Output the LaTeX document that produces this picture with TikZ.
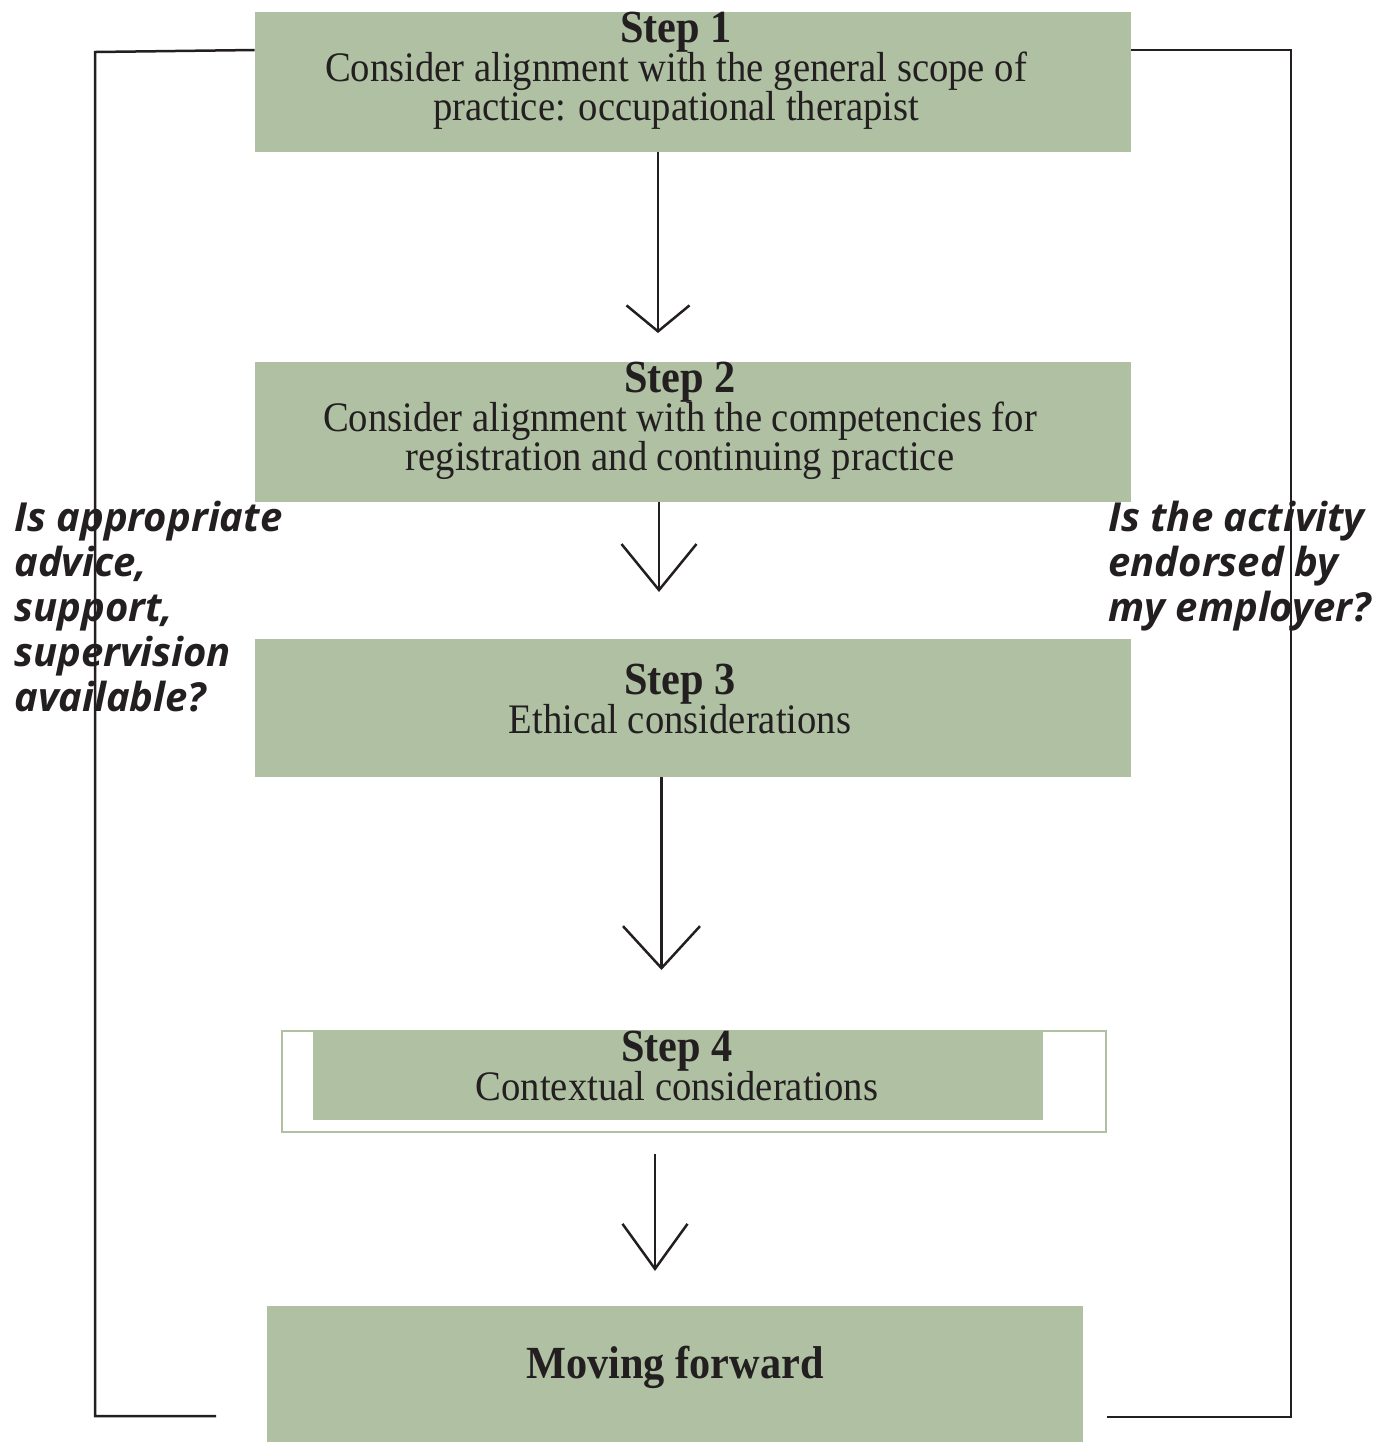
\documentclass[tikz,border=0pt]{standalone}
\usepackage{fontspec}
\setmainfont{Liberation Serif}[FakeStretch=0.92]
\newfontfamily\askfont{Open Sans}
\usetikzlibrary{arrows.meta}
\definecolor{sage}{RGB}{175,192,163}
\definecolor{ink}{RGB}{35,31,32}
\newcommand{\tightlines}{\lineskiplimit=-100pt\relax}
\newcommand{\stephead}[1]{{\fontsize{23}{19.5}\selectfont\bfseries #1}}

\begin{document}
\begin{tikzpicture}[x=0.5pt, y=-0.5pt,
	stepbox/.style = {fill=sage, inner sep=0pt},
	steptext/.style = {anchor=north, align=center, inner sep=0pt, text=ink,
		font=\fontsize{21}{19.5}\selectfont\tightlines},
	ask/.style = {anchor=north west, align=left, inner sep=0pt, text=ink,
		font=\askfont\bfseries\itshape\fontsize{20}{22.5}\selectfont\tightlines},
	flow/.style = {draw=ink, line width=1.25pt},
	bracket/.style = {draw=ink, line width=1.25pt}]
	\useasboundingbox (0,0) rectangle (1376,1442);
	% boxes
	\node[stepbox, minimum width=438pt, minimum height=70pt] (s1) at (693,82) {};
	\node[stepbox, minimum width=438pt, minimum height=70pt] (s2) at (693,432) {};
	\node[stepbox, minimum width=438pt, minimum height=69pt] (s3) at (693,708) {};
	\node[draw=sage, line width=1pt, minimum width=412pt, minimum height=50.5pt] (s4frame) at (694,1081.5) {};
	\node[stepbox, minimum width=365pt, minimum height=44.5pt] (s4) at (678,1075.5) {};
	\node[stepbox, minimum width=408pt, minimum height=68pt] (s5) at (675,1374) {};
	% texts
	\node[steptext] (t1) at (676,12) {\stephead{Step 1}\\Consider alignment with the general scope of\\practice: occupational therapist};
	\node[steptext] (t2) at (680,362) {\stephead{Step 2}\\Consider alignment with the competencies for\\registration and continuing practice};
	\node[steptext] (t3) at (680,664) {\stephead{Step 3}\\Ethical considerations};
	\node[steptext] (t4) at (677,1031) {\stephead{Step 4}\\Contextual considerations};
	\node[steptext, anchor=base, font=\fontsize{23}{26}\selectfont\bfseries] (t5) at (675,1378) {Moving forward};
	\node[ask] (qleft) at (14,501) {Is appropriate\\advice,\\support,\\supervision\\available?};
	\node[ask] (qright) at (1108,501) {Is the activity\\endorsed by\\my employer?};
	% arrows
	\coordinate (a1) at (658,333);
	\coordinate (a2) at (659,592);
	\coordinate (a3) at (661.5,970);
	\coordinate (a4) at (655,1271);
	\draw[flow, -{Straight Barb[length=13pt, width=31.5pt]}] (s1.south -| a1) -- (a1);
	\draw[flow, -{Straight Barb[length=23pt, width=37.5pt]}] (s2.south -| a2) -- (a2);
	\draw[flow, -{Straight Barb[length=21pt, width=38.5pt]}] (s3.south -| a3) -- (a3);
	\draw[flow, shorten <=10.5pt, -{Straight Barb[length=22.5pt, width=32.5pt]}] (s4frame.south -| a4) -- (a4);
	% side brackets
	\coordinate (lt) at (95,52);
	\coordinate (lb) at (95,1416);
	\coordinate (le) at (216,1416);
	\coordinate (rt) at (1291,50);
	\coordinate (rb) at (1291,1417);
	\coordinate (re) at (1107,1417);
	\draw[bracket] (s1.west |- 0,50) -- (lt) -- (lb) -- (le);
	\draw[bracket] (s1.east |- rt) -- (rt) -- (rb) -- (re);
\end{tikzpicture}
\end{document}
